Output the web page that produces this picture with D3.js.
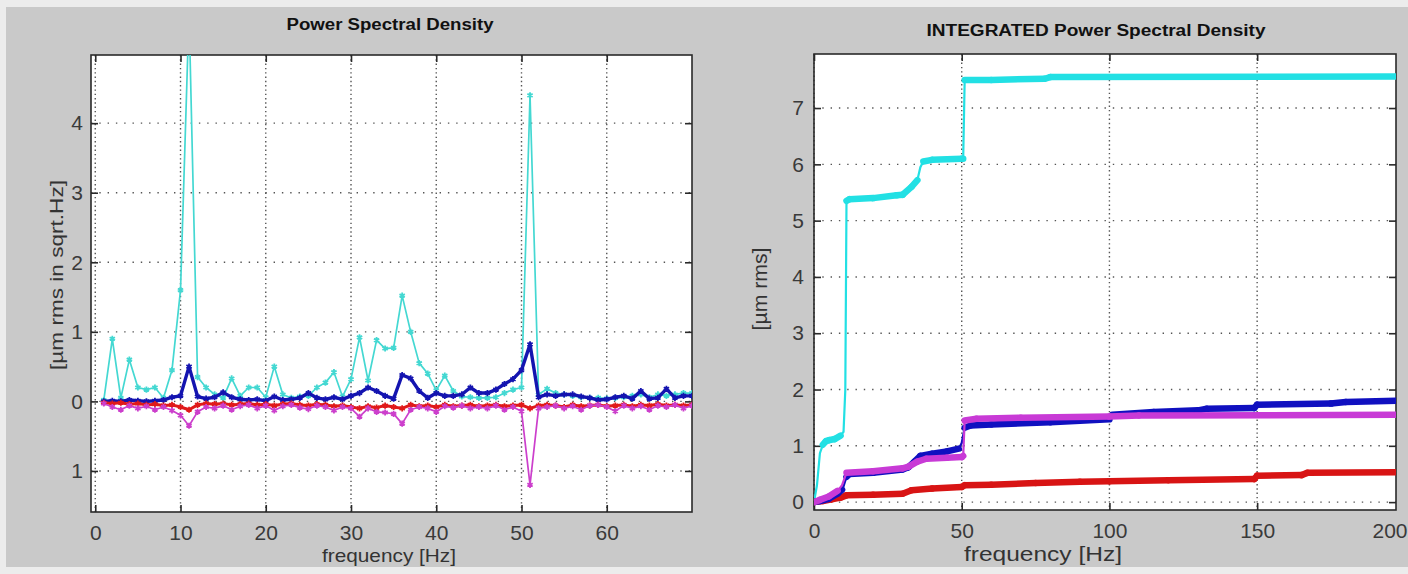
<!DOCTYPE html>
<html>
<head>
<meta charset="utf-8">
<script src="https://cdn.jsdelivr.net/npm/d3@7"></script>
<style>
  html, body { margin: 0; padding: 0; background: #ececec; }
  svg { display: block; }
  text { font-family: "Liberation Sans", Arial, sans-serif; }
</style>
</head>
<body>
<div id="chart"></div>
<script>
// ---- left panel: PSD, one value per Hz ----
const psdFreq = [1,2,3,4,5,6,7,8,9,10,11,12,13,14,15,16,17,18,19,20,21,22,23,24,25,26,27,28,29,30,31,32,33,34,35,36,37,38,39,40,41,42,43,44,45,46,47,48,49,50,51,52,53,54,55,56,57,58,59,60,61,62,63,64,65,66,67,68,69,70];
const psdCyan = [0.02,0.9,0.05,0.6,0.2,0.17,0.2,0.05,0.45,1.6,5.6,0.35,0.2,0.1,0.05,0.33,0.08,0.2,0.2,0.06,0.5,0.1,0.05,0.07,0.08,0.2,0.27,0.42,0.07,0.32,0.92,0.3,0.88,0.76,0.77,1.52,1.0,0.55,0.4,0.16,0.37,0.15,0.07,0.06,0.05,0.05,0.06,0.12,0.17,0.2,4.4,0.1,0.18,0.12,0.1,0.08,0.06,0.05,0.05,0.04,0.05,0.06,0.08,0.1,0.06,0.1,0.08,0.1,0.12,0.12];
const psdBlue = [0.0,0.01,0.0,0.02,0.01,0.0,0.01,0.02,0.06,0.08,0.5,0.07,0.04,0.06,0.13,0.06,0.03,0.02,0.03,0.01,0.07,0.02,0.03,0.05,0.12,0.05,0.03,0.06,0.03,0.08,0.12,0.2,0.15,0.08,0.04,0.38,0.33,0.15,0.05,0.12,0.08,0.08,0.1,0.2,0.12,0.12,0.17,0.25,0.32,0.45,0.82,0.06,0.1,0.08,0.1,0.1,0.07,0.05,0.02,0.03,0.06,0.08,0.04,0.15,0.04,0.05,0.18,0.05,0.08,0.08];
const psdRed = [-0.02,-0.03,-0.02,-0.04,-0.03,-0.05,-0.04,-0.06,-0.05,-0.08,-0.12,-0.05,-0.03,-0.04,-0.03,-0.05,-0.04,-0.03,-0.05,-0.04,-0.06,-0.04,-0.03,-0.05,-0.06,-0.04,-0.05,-0.07,-0.06,-0.08,-0.1,-0.07,-0.09,-0.06,-0.08,-0.1,-0.05,-0.07,-0.06,-0.08,-0.05,-0.07,-0.06,-0.05,-0.07,-0.06,-0.05,-0.07,-0.06,-0.05,-0.1,-0.06,-0.05,-0.06,-0.08,-0.05,-0.07,-0.06,-0.05,-0.07,-0.06,-0.05,-0.07,-0.05,-0.06,-0.04,-0.06,-0.05,-0.06,-0.05];
const psdMagenta = [-0.03,-0.08,-0.12,-0.06,-0.1,-0.07,-0.12,-0.08,-0.13,-0.2,-0.35,-0.15,-0.08,-0.1,-0.06,-0.12,-0.07,-0.05,-0.1,-0.06,-0.13,-0.07,-0.05,-0.09,-0.11,-0.06,-0.08,-0.13,-0.08,-0.1,-0.22,-0.1,-0.15,-0.16,-0.18,-0.32,-0.12,-0.08,-0.1,-0.15,-0.07,-0.09,-0.06,-0.1,-0.08,-0.1,-0.06,-0.12,-0.08,-0.14,-1.2,-0.1,-0.08,-0.06,-0.1,-0.07,-0.12,-0.06,-0.05,-0.08,-0.14,-0.06,-0.1,-0.07,-0.12,-0.06,-0.08,-0.05,-0.1,-0.06];
const psdXTicks = [0,10,20,30,40,50,60];
const psdYTicks = [-1,0,1,2,3,4];

// ---- right panel: integrated PSD, [freq, value] ----
const intCyan = [[0,0],[1,0.3],[2,0.87],[3,1.02],[4,1.08],[5,1.1],[7,1.12],[9,1.18],[10,1.25],[10.6,2.0],[11,5.35],[12,5.38],[20,5.4],[28,5.45],[30,5.46],[33,5.6],[35,5.72],[36,5.95],[37,6.05],[40,6.08],[50,6.1],[50.5,6.1],[51,7.5],[60,7.5],[78,7.52],[80,7.55],[197,7.56]];
const intBlue = [[0,0],[2,0.02],[5,0.06],[8,0.15],[9.5,0.22],[10,0.28],[11,0.45],[12,0.5],[20,0.52],[30,0.58],[32,0.62],[34,0.72],[36,0.82],[40,0.86],[45,0.9],[49,0.95],[50,1.05],[51,1.32],[53,1.36],[60,1.38],[80,1.42],[100,1.47],[101,1.55],[115,1.6],[130,1.63],[133,1.66],[149,1.67],[150,1.73],[175,1.75],[180,1.78],[197,1.8]];
const intMagenta = [[0,0],[2,0.04],[5,0.1],[8,0.2],[9.5,0.3],[10.5,0.45],[11,0.52],[20,0.55],[30,0.6],[32,0.63],[35,0.72],[38,0.77],[45,0.79],[50,0.8],[50.5,0.82],[51,1.45],[55,1.48],[70,1.5],[100,1.52],[110,1.54],[197,1.55]];
const intRed = [[0,0],[3,0.02],[6,0.05],[9,0.08],[11,0.12],[20,0.13],[30,0.15],[33,0.21],[40,0.24],[50,0.27],[51,0.3],[60,0.31],[75,0.34],[90,0.36],[100,0.37],[120,0.39],[149,0.41],[150,0.47],[165,0.48],[167,0.52],[197,0.53]];
const intXTicks = [0,50,100,150,200];
const intYTicks = [0,1,2,3,4,5,6,7];

var svg = d3.select('#chart').append('svg').attr('width', 1408).attr('height', 574);

// figure background (grey window inside the lighter frame)
svg.append('rect').attr('x', 6).attr('y', 7).attr('width', 1402).attr('height', 560).attr('fill', '#c9c9c9');

// white plot area, dotted grid, box with inner ticks on all four sides
function drawFrame(g, id, x, y, w, h, xTicks, yTicks, yPad) {
  g.append('rect').attr('width', w).attr('height', h).attr('fill', '#fff');

  var xIn = xTicks.filter(function(d) { return x(d) >= 0 && x(d) <= w; });

  g.append('g').selectAll('line').data(xIn).enter().append('line')
    .attr('x1', d => x(d)).attr('x2', d => x(d)).attr('y1', 0).attr('y2', h)
    .attr('stroke', '#555').attr('stroke-width', 1.4).attr('stroke-dasharray', '1.4,2.9');
  g.append('g').selectAll('line').data(yTicks).enter().append('line')
    .attr('x1', 0).attr('x2', w).attr('y1', d => y(d)).attr('y2', d => y(d))
    .attr('stroke', '#555').attr('stroke-width', 1.4).attr('stroke-dasharray', '1.4,6.9');

  g.append('clipPath').attr('id', id).append('rect').attr('width', w).attr('height', h);

  var bottom = g.append('g').attr('class', 'axis').attr('transform', 'translate(0,' + h + ')')
    .call(d3.axisBottom(x).tickValues(xTicks).tickSize(-7).tickPadding(13));
  // a label past the box edge loses its tick and is pulled inside the window
  var out = bottom.selectAll('.tick').filter(d => x(d) > w + 0.5);
  out.select('line').remove();
  out.select('text').attr('text-anchor', 'end').attr('x', 1407 - 814 - x(200));

  g.append('g').attr('class', 'axis')
    .call(d3.axisTop(x).tickValues(xIn).tickSize(-7).tickFormat(''));
  g.append('g').attr('class', 'axis')
    .call(d3.axisLeft(y).tickValues(yTicks).tickSize(-7).tickPadding(yPad)
      .tickFormat(d => String(Math.abs(d))));
  g.append('g').attr('class', 'axis').attr('transform', 'translate(' + w + ',0)')
    .call(d3.axisRight(y).tickValues(yTicks).tickSize(-7).tickFormat(''));

  g.selectAll('.axis .domain').remove();
  g.selectAll('.axis .tick line').attr('stroke', '#2a2a2a').attr('stroke-width', 1.6);
  g.selectAll('.axis text').attr('font-size', 21).attr('fill', '#3a3a3a')
    .attr('font-family', '"Liberation Sans", Arial, sans-serif');

  g.append('rect').attr('width', w).attr('height', h)
    .attr('fill', 'none').attr('stroke', '#2a2a2a').attr('stroke-width', 1.6);
}

function label(txt, x, y, size, len, opts) {
  opts = opts || {};
  var t = svg.append('text').attr('x', x).attr('y', y)
    .attr('text-anchor', 'middle').attr('font-size', size)
    .attr('fill', opts.fill || '#333')
    .attr('textLength', len).attr('lengthAdjust', 'spacingAndGlyphs')
    .text(txt);
  if (opts.bold) t.attr('font-weight', 'bold').attr('font-family', '"Liberation Sans Narrow", "Liberation Sans", Arial, sans-serif');
  if (opts.rotate) t.attr('transform', 'rotate(-90,' + x + ',' + y + ')');
  return t;
}

// ------------------------------------------------------------------
// Power Spectral Density
(function() {
  var w = 601, h = 457;
  var g = svg.append('g').attr('transform', 'translate(91,55)');
  var x = d3.scaleLinear().domain([-0.5, 70]).range([0, w]);
  var y = d3.scaleLinear().domain([-1.59, 4.98]).range([h, 0]);

  drawFrame(g, 'clipPsd', x, y, w, h, psdXTicks, psdYTicks, 8);

  var series = [
    { values: psdCyan, color: '#44d8d2', width: 1.7 },
    { values: psdBlue, color: '#1414b0', width: 3.4 },
    { values: psdRed, color: '#e01a1a', width: 3 },
    { values: psdMagenta, color: '#cc3fcc', width: 1.7 }
  ];

  var plot = g.append('g').attr('clip-path', 'url(#clipPsd)');
  var line = d3.line().x(d => x(d[0])).y(d => y(d[1]));
  var star = d3.symbol().type(d3.symbolAsterisk).size(26);

  series.forEach(function(s) {
    var pts = psdFreq.map((f, i) => [f, s.values[i]]);
    plot.append('path').datum(pts).attr('d', line)
      .attr('fill', 'none').attr('stroke', s.color).attr('stroke-width', s.width)
      .attr('stroke-linejoin', 'round');
    plot.append('g').selectAll('path').data(pts).enter().append('path')
      .attr('transform', d => 'translate(' + x(d[0]) + ',' + y(d[1]) + ')')
      .attr('d', star).attr('fill', 'none').attr('stroke', s.color).attr('stroke-width', 1.8);
  });

  label('Power Spectral Density', 390, 30, 16, 207, { bold: true, fill: '#111' });
  label('frequency [Hz]', 389, 562, 19, 134);
  label('[\u00b5m rms in sqrt.Hz]', 63, 275, 18, 190, { rotate: true });
})();

// ------------------------------------------------------------------
// INTEGRATED Power Spectral Density
(function() {
  var w = 582, h = 456;
  var g = svg.append('g').attr('transform', 'translate(814,54)');
  var x = d3.scaleLinear().domain([0, 197]).range([0, w]);
  var y = d3.scaleLinear().domain([-0.14, 7.96]).range([h, 0]);

  drawFrame(g, 'clipInt', x, y, w, h, intXTicks, intYTicks, 10);

  // magenta goes over blue: below 30 Hz the blue band hides under it
  var series = [
    { values: intCyan, color: '#22e0e4' },
    { values: intRed, color: '#d81414' },
    { values: intBlue, color: '#1010c0' },
    { values: intMagenta, color: '#c83ad6' }
  ];

  var plot = g.append('g').attr('clip-path', 'url(#clipInt)');
  var line = d3.line().x(d => x(d[0])).y(d => y(d[1]));

  series.forEach(function(s) {
    plot.append('path').datum(s.values).attr('d', line)
      .attr('fill', 'none').attr('stroke', s.color).attr('stroke-width', 2.2);
    // dense markers make the flat parts look like a thick band
    var segs = d3.pairs(s.values).filter(function(p) {
      var dx = Math.abs(x(p[1][0]) - x(p[0][0]));
      var dy = Math.abs(y(p[1][1]) - y(p[0][1]));
      return dy < dx * 1.2;
    });
    plot.append('g').selectAll('line').data(segs).enter().append('line')
      .attr('x1', p => x(p[0][0])).attr('y1', p => y(p[0][1]))
      .attr('x2', p => x(p[1][0])).attr('y2', p => y(p[1][1]))
      .attr('stroke', s.color).attr('stroke-width', 6.5).attr('stroke-linecap', 'round');
  });

  label('INTEGRATED Power Spectral Density', 1096, 36, 16, 339, { bold: true, fill: '#111' });
  label('frequency [Hz]', 1043, 561, 21, 158);
  label('[\u00b5m rms]', 767, 289, 20, 83, { rotate: true });
})();
</script>
</body>
</html>
